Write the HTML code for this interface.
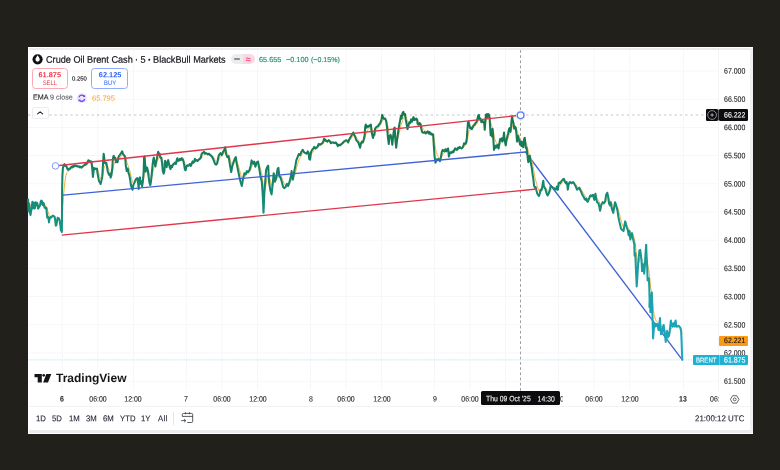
<!DOCTYPE html><html lang="en"><head><meta charset="utf-8"><title>Crude Oil Brent Cash</title><style>
*{margin:0;padding:0;box-sizing:border-box}
html,body{width:780px;height:470px;overflow:hidden;background:#22201b;font-family:"Liberation Sans",sans-serif;}
#root{position:absolute;left:0;top:0;width:780px;height:470px;will-change:transform;transform:translateZ(0);filter:blur(0.3px)}
#f{position:absolute;left:28px;top:47px;width:725px;height:386.6px;background:#fff;}
.band{position:absolute;background:#ebebee}
.t{position:absolute;white-space:nowrap;line-height:1;color:#1b1c1f;transform:rotate(0.03deg)}
svg{position:absolute;left:0;top:0}
.lbl{position:absolute}
.ax{font-size:7.8px;-webkit-text-stroke:0.1px #1b1c1f;transform:scaleX(0.895) rotate(0.03deg);transform-origin:0 0}
.tx{font-size:7.8px;-webkit-text-stroke:0.08px #1b1c1f;transform:scaleX(0.895) rotate(0.03deg);transform-origin:50% 0}
.ttl{font-size:9.55px;color:#16181d;-webkit-text-stroke:0.22px #16181d;transform:scaleX(0.956) rotate(0.03deg);transform-origin:0 0}
.d{display:inline-block;width:1.5px;height:1.5px;background:#16181d;border-radius:50%;margin:0 3.25px;vertical-align:2.5px}
.gv{font-size:7.3px;color:#1f8f73;-webkit-text-stroke:0.15px #1f8f73}
.bs{text-align:center}
.bt{font-size:8.45px;color:#1e222d;-webkit-text-stroke:0.12px #1e222d;transform:scaleX(0.92) rotate(0.03deg);transform-origin:0 0}
</style></head><body>
<div id="root">
<div id="f"></div>
<div class="band" style="left:29.2px;top:48.2px;width:723.6px;height:1.9px"></div>
<div class="band" style="left:29.2px;top:430px;width:723.6px;height:2.5px"></div>
<div class="band" style="left:750.3px;top:48.2px;width:2.4px;height:384.4px;background:#f0f0f2"></div>
<div style="position:absolute;left:29.2px;top:406.4px;width:721px;height:1px;background:#f3f3f5"></div>
<svg width="780" height="470" viewBox="0 0 780 470"><defs><linearGradient id="lg" gradientUnits="userSpaceOnUse" x1="0" y1="110" x2="0" y2="362"><stop offset="0" stop-color="#17784f"/><stop offset="0.16" stop-color="#167c5a"/><stop offset="0.30" stop-color="#14876e"/><stop offset="0.44" stop-color="#179282"/><stop offset="0.63" stop-color="#199d9f"/><stop offset="0.83" stop-color="#1aa4b6"/><stop offset="1" stop-color="#1da8c6"/></linearGradient></defs><line x1="62.2" y1="50" x2="62.2" y2="390" stroke="#f7f7f9" stroke-width="1"/><line x1="97.8" y1="50" x2="97.8" y2="390" stroke="#f7f7f9" stroke-width="1"/><line x1="133.4" y1="50" x2="133.4" y2="390" stroke="#f7f7f9" stroke-width="1"/><line x1="186.3" y1="50" x2="186.3" y2="390" stroke="#f7f7f9" stroke-width="1"/><line x1="221.9" y1="50" x2="221.9" y2="390" stroke="#f7f7f9" stroke-width="1"/><line x1="257.5" y1="50" x2="257.5" y2="390" stroke="#f7f7f9" stroke-width="1"/><line x1="310.4" y1="50" x2="310.4" y2="390" stroke="#f7f7f9" stroke-width="1"/><line x1="346.0" y1="50" x2="346.0" y2="390" stroke="#f7f7f9" stroke-width="1"/><line x1="381.6" y1="50" x2="381.6" y2="390" stroke="#f7f7f9" stroke-width="1"/><line x1="434.4" y1="50" x2="434.4" y2="390" stroke="#f7f7f9" stroke-width="1"/><line x1="470.0" y1="50" x2="470.0" y2="390" stroke="#f7f7f9" stroke-width="1"/><line x1="505.6" y1="50" x2="505.6" y2="390" stroke="#f7f7f9" stroke-width="1"/><line x1="558.5" y1="50" x2="558.5" y2="390" stroke="#f7f7f9" stroke-width="1"/><line x1="594.1" y1="50" x2="594.1" y2="390" stroke="#f7f7f9" stroke-width="1"/><line x1="629.7" y1="50" x2="629.7" y2="390" stroke="#f7f7f9" stroke-width="1"/><line x1="683.5" y1="50" x2="683.5" y2="390" stroke="#f7f7f9" stroke-width="1"/><line x1="28" y1="71.0" x2="719" y2="71.0" stroke="#f7f7f9" stroke-width="1"/><line x1="28" y1="99.2" x2="719" y2="99.2" stroke="#f7f7f9" stroke-width="1"/><line x1="28" y1="127.4" x2="719" y2="127.4" stroke="#f7f7f9" stroke-width="1"/><line x1="28" y1="155.6" x2="719" y2="155.6" stroke="#f7f7f9" stroke-width="1"/><line x1="28" y1="183.8" x2="719" y2="183.8" stroke="#f7f7f9" stroke-width="1"/><line x1="28" y1="212.0" x2="719" y2="212.0" stroke="#f7f7f9" stroke-width="1"/><line x1="28" y1="240.2" x2="719" y2="240.2" stroke="#f7f7f9" stroke-width="1"/><line x1="28" y1="268.4" x2="719" y2="268.4" stroke="#f7f7f9" stroke-width="1"/><line x1="28" y1="296.6" x2="719" y2="296.6" stroke="#f7f7f9" stroke-width="1"/><line x1="28" y1="324.8" x2="719" y2="324.8" stroke="#f7f7f9" stroke-width="1"/><line x1="28" y1="353.0" x2="719" y2="353.0" stroke="#f7f7f9" stroke-width="1"/><line x1="28" y1="381.2" x2="719" y2="381.2" stroke="#f7f7f9" stroke-width="1"/><line x1="28" y1="115" x2="706" y2="115" stroke="#c2c4c9" stroke-width="1" stroke-dasharray="2.3 3"/><line x1="520.5" y1="50" x2="520.5" y2="392" stroke="#a0a0a5" stroke-width="1" stroke-dasharray="2.8 2.4"/><line x1="28" y1="359.9" x2="694" y2="359.9" stroke="#b6e6f0" stroke-width="1" stroke-dasharray="1.3 1.1"/><line x1="525.5" y1="152" x2="682.3" y2="359.8" stroke="#3f62d8" stroke-width="1.35" stroke-linecap="round"/><path d="M28.0 199.6 L28.5 201.6 L29.0 202.5 L29.5 203.6 L30.0 205.5 L30.5 207.4 L31.0 208.3 L31.5 208.5 L32.0 207.9 L32.5 206.9 L33.0 207.1 L33.5 206.5 L34.0 206.4 L34.5 206.8 L35.0 206.9 L35.5 206.1 L36.0 205.8 L36.5 205.5 L37.0 205.0 L37.5 204.8 L38.0 205.3 L38.5 205.9 L39.0 206.1 L39.5 206.2 L40.0 206.0 L40.5 205.4 L41.0 204.5 L41.5 203.8 L42.0 203.3 L42.5 203.5 L43.0 203.5 L43.5 203.5 L44.0 203.7 L44.5 204.4 L45.0 205.0 L45.5 205.6 L46.0 206.1 L46.5 206.7 L47.0 208.5 L47.5 210.3 L48.0 211.6 L48.5 212.9 L49.0 214.8 L49.5 215.7 L50.0 216.1 L50.5 216.3 L51.0 216.6 L51.5 216.7 L52.0 216.7 L52.5 216.5 L53.0 216.4 L53.5 216.3 L54.0 216.3 L54.5 216.3 L55.0 216.9 L55.5 218.1 L56.0 219.6 L56.5 220.6 L57.0 220.7 L57.5 220.3 L58.0 219.8 L58.5 219.5 L59.0 219.4 L59.5 219.5 L60.0 220.2 L60.5 221.6 L61.0 223.4 L61.5 224.9 L62.0 222.9 L62.5 213.2 L63.0 204.1 L63.5 196.5 L64.0 190.2 L64.5 185.0 L65.0 181.1 L65.5 178.0 L66.0 175.5 L66.5 173.7 L67.0 172.5 L67.5 171.9 L68.0 171.4 L68.5 171.0 L69.0 170.6 L69.5 170.2 L70.0 169.9 L70.5 169.6 L71.0 169.1 L71.5 168.6 L72.0 168.4 L72.5 168.0 L73.0 167.6 L73.5 167.4 L74.0 167.2 L74.5 166.8 L75.0 166.6 L75.5 166.5 L76.0 166.3 L76.5 166.3 L77.0 166.3 L77.5 166.2 L78.0 166.3 L78.5 166.3 L79.0 166.4 L79.5 166.5 L80.0 166.6 L80.5 166.6 L81.0 166.7 L81.5 166.9 L82.0 166.9 L82.5 166.9 L83.0 166.8 L83.5 166.5 L84.0 166.3 L84.5 166.1 L85.0 165.7 L85.5 165.4 L86.0 165.2 L86.5 164.9 L87.0 164.6 L87.5 164.1 L88.0 163.5 L88.5 162.9 L89.0 162.6 L89.5 162.3 L90.0 162.1 L90.5 162.1 L91.0 162.0 L91.5 162.1 L92.0 163.0 L92.5 164.7 L93.0 167.0 L93.5 168.1 L94.0 168.1 L94.5 168.3 L95.0 168.4 L95.5 168.4 L96.0 168.6 L96.5 168.6 L97.0 168.6 L97.5 169.5 L98.0 170.7 L98.5 172.3 L99.0 174.0 L99.5 175.6 L100.0 176.9 L100.5 178.3 L101.0 179.1 L101.5 179.3 L102.0 179.0 L102.5 177.5 L103.0 174.7 L103.5 171.0 L104.0 168.0 L104.5 166.6 L105.0 165.9 L105.5 165.4 L106.0 164.9 L106.5 164.7 L107.0 165.1 L107.5 166.0 L108.0 167.3 L108.5 168.5 L109.0 169.7 L109.5 170.7 L110.0 171.4 L110.5 172.4 L111.0 173.3 L111.5 173.5 L112.0 172.9 L112.5 171.1 L113.0 168.6 L113.5 166.2 L114.0 164.3 L114.5 163.3 L115.0 162.2 L115.5 161.6 L116.0 161.7 L116.5 161.7 L117.0 161.7 L117.5 161.8 L118.0 161.4 L118.5 160.5 L119.0 159.6 L119.5 158.8 L120.0 158.0 L120.5 157.2 L121.0 156.4 L121.5 155.6 L122.0 154.8 L122.5 154.3 L123.0 154.3 L123.5 154.4 L124.0 154.6 L124.5 154.8 L125.0 155.3 L125.5 156.5 L126.0 158.6 L126.5 160.8 L127.0 162.7 L127.5 164.0 L128.0 165.2 L128.5 166.8 L129.0 168.3 L129.5 169.9 L130.0 171.6 L130.5 173.8 L131.0 176.1 L131.5 178.3 L132.0 180.4 L132.5 182.2 L133.0 183.2 L133.5 183.5 L134.0 183.5 L134.5 183.2 L135.0 182.8 L135.5 182.2 L136.0 181.6 L136.5 181.0 L137.0 180.5 L137.5 180.2 L138.0 180.5 L138.5 181.8 L139.0 182.1 L139.5 181.3 L140.0 180.5 L140.5 181.2 L141.0 181.4 L141.5 181.7 L142.0 182.5 L142.5 182.8 L143.0 182.2 L143.5 180.4 L144.0 176.3 L144.5 172.3 L145.0 170.2 L145.5 170.0 L146.0 169.9 L146.5 169.4 L147.0 169.1 L147.5 169.1 L148.0 169.5 L148.5 170.8 L149.0 172.5 L149.5 174.5 L150.0 176.4 L150.5 177.9 L151.0 178.6 L151.5 178.2 L152.0 176.8 L152.5 174.5 L153.0 171.9 L153.5 169.3 L154.0 167.2 L154.5 166.2 L155.0 166.0 L155.5 165.9 L156.0 165.1 L156.5 164.1 L157.0 162.9 L157.5 161.3 L158.0 159.6 L158.5 158.4 L159.0 157.6 L159.5 156.8 L160.0 156.7 L160.5 156.9 L161.0 157.0 L161.5 157.5 L162.0 158.6 L162.5 160.4 L163.0 162.7 L163.5 164.8 L164.0 166.3 L164.5 166.9 L165.0 166.0 L165.5 165.3 L166.0 165.2 L166.5 165.5 L167.0 165.4 L167.5 164.7 L168.0 163.9 L168.5 163.4 L169.0 163.6 L169.5 164.1 L170.0 164.8 L170.5 165.7 L171.0 166.0 L171.5 166.0 L172.0 166.2 L172.5 166.1 L173.0 165.8 L173.5 165.5 L174.0 165.1 L174.5 164.7 L175.0 164.4 L175.5 164.2 L176.0 164.0 L176.5 163.4 L177.0 162.6 L177.5 161.8 L178.0 161.4 L178.5 161.3 L179.0 161.1 L179.5 160.8 L180.0 160.4 L180.5 160.3 L181.0 160.1 L181.5 159.8 L182.0 159.5 L182.5 159.4 L183.0 159.5 L183.5 159.9 L184.0 160.8 L184.5 162.1 L185.0 163.6 L185.5 164.9 L186.0 165.7 L186.5 165.8 L187.0 165.8 L187.5 165.7 L188.0 165.7 L188.5 165.7 L189.0 165.6 L189.5 165.4 L190.0 165.2 L190.5 165.2 L191.0 165.2 L191.5 165.0 L192.0 164.6 L192.5 164.0 L193.0 163.6 L193.5 163.4 L194.0 163.1 L194.5 162.6 L195.0 161.9 L195.5 161.6 L196.0 161.4 L196.5 161.2 L197.0 161.0 L197.5 160.9 L198.0 160.8 L198.5 160.6 L199.0 160.3 L199.5 160.1 L200.0 159.8 L200.5 159.4 L201.0 158.8 L201.5 158.0 L202.0 157.1 L202.5 156.3 L203.0 155.5 L203.5 154.9 L204.0 154.3 L204.5 154.0 L205.0 153.9 L205.5 153.8 L206.0 153.7 L206.5 153.6 L207.0 153.7 L207.5 153.7 L208.0 153.9 L208.5 153.9 L209.0 153.9 L209.5 154.0 L210.0 154.2 L210.5 154.4 L211.0 154.6 L211.5 155.0 L212.0 155.3 L212.5 155.8 L213.0 156.4 L213.5 157.1 L214.0 157.9 L214.5 158.8 L215.0 159.8 L215.5 160.7 L216.0 161.4 L216.5 162.0 L217.0 162.3 L217.5 162.2 L218.0 161.6 L218.5 160.6 L219.0 159.5 L219.5 158.5 L220.0 157.5 L220.5 156.6 L221.0 156.1 L221.5 155.8 L222.0 155.5 L222.5 155.1 L223.0 154.5 L223.5 153.9 L224.0 153.2 L224.5 152.4 L225.0 151.5 L225.5 151.1 L226.0 151.6 L226.5 152.3 L227.0 153.1 L227.5 153.9 L228.0 154.5 L228.5 154.8 L229.0 155.6 L229.5 156.9 L230.0 158.6 L230.5 160.5 L231.0 162.6 L231.5 164.2 L232.0 165.0 L232.5 165.1 L233.0 164.8 L233.5 164.3 L234.0 163.6 L234.5 162.8 L235.0 161.9 L235.5 161.1 L236.0 160.5 L236.5 160.8 L237.0 161.7 L237.5 162.9 L238.0 164.3 L238.5 166.0 L239.0 167.8 L239.5 169.7 L240.0 171.7 L240.5 173.6 L241.0 175.6 L241.5 177.4 L242.0 178.9 L242.5 179.5 L243.0 179.4 L243.5 178.9 L244.0 178.1 L244.5 177.1 L245.0 176.4 L245.5 176.0 L246.0 175.5 L246.5 174.8 L247.0 174.1 L247.5 173.6 L248.0 173.2 L248.5 172.9 L249.0 172.5 L249.5 172.0 L250.0 171.2 L250.5 170.3 L251.0 169.1 L251.5 167.5 L252.0 166.2 L252.5 165.5 L253.0 165.1 L253.5 164.6 L254.0 164.0 L254.5 163.8 L255.0 164.1 L255.5 164.6 L256.0 164.6 L256.5 164.3 L257.0 163.9 L257.5 163.5 L258.0 163.1 L258.5 163.4 L259.0 164.2 L259.5 165.4 L260.0 167.0 L260.5 168.8 L261.0 170.7 L261.5 172.7 L262.0 175.1 L262.5 178.5 L263.0 183.1 L263.5 189.0 L264.0 191.3 L264.5 191.2 L265.0 189.8 L265.5 187.4 L266.0 184.1 L266.5 181.0 L267.0 178.4 L267.5 176.0 L268.0 174.0 L268.5 173.5 L269.0 175.0 L269.5 177.0 L270.0 179.2 L270.5 181.5 L271.0 183.7 L271.5 185.8 L272.0 186.7 L272.5 186.5 L273.0 185.2 L273.5 183.3 L274.0 181.6 L274.5 181.0 L275.0 181.1 L275.5 180.9 L276.0 180.4 L276.5 179.5 L277.0 178.1 L277.5 176.4 L278.0 174.8 L278.5 173.6 L279.0 173.6 L279.5 174.2 L280.0 174.8 L280.5 175.3 L281.0 176.0 L281.5 177.0 L282.0 178.1 L282.5 179.4 L283.0 180.8 L283.5 182.1 L284.0 183.3 L284.5 184.2 L285.0 184.9 L285.5 185.3 L286.0 185.5 L286.5 185.4 L287.0 185.1 L287.5 185.0 L288.0 185.2 L288.5 185.1 L289.0 184.7 L289.5 184.1 L290.0 183.3 L290.5 182.3 L291.0 180.9 L291.5 179.1 L292.0 178.0 L292.5 177.8 L293.0 178.0 L293.5 177.6 L294.0 176.7 L294.5 175.4 L295.0 173.9 L295.5 172.2 L296.0 170.2 L296.5 168.1 L297.0 166.2 L297.5 164.5 L298.0 162.8 L298.5 161.2 L299.0 159.8 L299.5 158.8 L300.0 158.0 L300.5 157.2 L301.0 156.4 L301.5 155.4 L302.0 154.5 L302.5 153.6 L303.0 153.0 L303.5 152.6 L304.0 152.5 L304.5 152.5 L305.0 152.6 L305.5 152.7 L306.0 152.8 L306.5 153.0 L307.0 152.9 L307.5 152.7 L308.0 152.5 L308.5 152.6 L309.0 153.5 L309.5 154.6 L310.0 155.6 L310.5 155.7 L311.0 155.0 L311.5 154.2 L312.0 153.4 L312.5 152.6 L313.0 151.9 L313.5 151.1 L314.0 150.4 L314.5 149.8 L315.0 149.4 L315.5 149.2 L316.0 149.0 L316.5 148.7 L317.0 148.4 L317.5 148.1 L318.0 147.6 L318.5 147.0 L319.0 146.4 L319.5 146.0 L320.0 145.7 L320.5 145.5 L321.0 145.2 L321.5 144.9 L322.0 144.6 L322.5 144.2 L323.0 143.8 L323.5 143.2 L324.0 142.4 L324.5 141.7 L325.0 141.3 L325.5 141.0 L326.0 141.0 L326.5 141.0 L327.0 141.1 L327.5 141.2 L328.0 141.2 L328.5 141.0 L329.0 140.9 L329.5 140.9 L330.0 141.0 L330.5 141.3 L331.0 141.7 L331.5 141.9 L332.0 142.0 L332.5 142.1 L333.0 142.2 L333.5 142.3 L334.0 142.4 L334.5 142.6 L335.0 142.6 L335.5 142.6 L336.0 142.7 L336.5 142.8 L337.0 143.1 L337.5 143.6 L338.0 144.1 L338.5 144.3 L339.0 144.4 L339.5 144.5 L340.0 144.7 L340.5 144.8 L341.0 144.7 L341.5 144.5 L342.0 144.3 L342.5 144.1 L343.0 143.8 L343.5 143.5 L344.0 143.1 L344.5 142.7 L345.0 142.4 L345.5 142.0 L346.0 141.7 L346.5 141.4 L347.0 141.3 L347.5 141.3 L348.0 141.5 L348.5 141.5 L349.0 141.2 L349.5 140.7 L350.0 140.2 L350.5 139.6 L351.0 138.9 L351.5 138.2 L352.0 137.5 L352.5 136.8 L353.0 136.0 L353.5 135.4 L354.0 135.3 L354.5 135.3 L355.0 135.5 L355.5 136.0 L356.0 136.7 L356.5 137.4 L357.0 138.2 L357.5 138.8 L358.0 139.5 L358.5 140.2 L359.0 141.0 L359.5 142.0 L360.0 143.1 L360.5 143.7 L361.0 143.6 L361.5 143.4 L362.0 143.1 L362.5 142.9 L363.0 142.7 L363.5 142.2 L364.0 141.4 L364.5 140.4 L365.0 138.3 L365.5 135.8 L366.0 133.7 L366.5 132.3 L367.0 131.3 L367.5 130.3 L368.0 129.5 L368.5 129.0 L369.0 128.4 L369.5 127.8 L370.0 127.4 L370.5 127.0 L371.0 126.8 L371.5 127.7 L372.0 129.0 L372.5 130.5 L373.0 131.9 L373.5 132.7 L374.0 133.0 L374.5 133.3 L375.0 132.6 L375.5 131.7 L376.0 130.9 L376.5 130.1 L377.0 129.4 L377.5 128.8 L378.0 128.3 L378.5 127.7 L379.0 127.1 L379.5 126.5 L380.0 125.8 L380.5 125.1 L381.0 124.3 L381.5 123.3 L382.0 121.9 L382.5 120.7 L383.0 120.1 L383.5 119.7 L384.0 119.5 L384.5 119.3 L385.0 119.2 L385.5 119.2 L386.0 119.5 L386.5 120.4 L387.0 121.7 L387.5 124.0 L388.0 126.9 L388.5 129.9 L389.0 132.3 L389.5 133.2 L390.0 133.7 L390.5 134.0 L391.0 134.4 L391.5 135.1 L392.0 136.4 L392.5 137.8 L393.0 137.8 L393.5 137.0 L394.0 135.4 L394.5 133.9 L395.0 133.7 L395.5 135.1 L396.0 137.2 L396.5 138.8 L397.0 139.3 L397.5 138.8 L398.0 137.6 L398.5 136.0 L399.0 134.0 L399.5 132.0 L400.0 129.8 L400.5 127.5 L401.0 125.1 L401.5 123.8 L402.0 122.2 L402.5 120.5 L403.0 118.9 L403.5 117.6 L404.0 116.9 L404.5 116.4 L405.0 116.0 L405.5 116.3 L406.0 117.2 L406.5 118.4 L407.0 119.9 L407.5 121.7 L408.0 122.9 L408.5 123.4 L409.0 123.5 L409.5 123.3 L410.0 123.2 L410.5 122.9 L411.0 122.3 L411.5 121.9 L412.0 121.9 L412.5 121.5 L413.0 120.8 L413.5 120.1 L414.0 119.9 L414.5 119.9 L415.0 119.8 L415.5 119.7 L416.0 119.5 L416.5 119.4 L417.0 119.4 L417.5 120.0 L418.0 120.9 L418.5 121.6 L419.0 122.0 L419.5 122.3 L420.0 122.5 L420.5 123.0 L421.0 123.8 L421.5 124.9 L422.0 126.2 L422.5 127.5 L423.0 128.5 L423.5 129.3 L424.0 129.9 L424.5 130.4 L425.0 130.8 L425.5 131.3 L426.0 131.7 L426.5 131.8 L427.0 131.9 L427.5 131.8 L428.0 131.8 L428.5 132.1 L429.0 132.2 L429.5 132.2 L430.0 132.4 L430.5 132.8 L431.0 133.0 L431.5 133.1 L432.0 133.4 L432.5 133.7 L433.0 133.8 L433.5 135.2 L434.0 137.9 L434.5 141.3 L435.0 144.8 L435.5 148.3 L436.0 150.9 L436.5 152.6 L437.0 154.1 L437.5 155.3 L438.0 156.1 L438.5 156.7 L439.0 157.3 L439.5 157.9 L440.0 158.5 L440.5 158.6 L441.0 158.3 L441.5 157.4 L442.0 156.2 L442.5 155.1 L443.0 154.1 L443.5 153.4 L444.0 152.9 L444.5 152.6 L445.0 152.1 L445.5 151.6 L446.0 151.4 L446.5 151.3 L447.0 151.0 L447.5 150.5 L448.0 150.1 L448.5 150.6 L449.0 151.8 L449.5 152.3 L450.0 152.4 L450.5 152.4 L451.0 152.4 L451.5 152.5 L452.0 152.4 L452.5 152.2 L453.0 152.2 L453.5 152.1 L454.0 151.8 L454.5 151.4 L455.0 150.9 L455.5 150.4 L456.0 150.2 L456.5 150.0 L457.0 150.0 L457.5 149.7 L458.0 149.4 L458.5 149.1 L459.0 148.9 L459.5 148.6 L460.0 148.3 L460.5 148.2 L461.0 148.1 L461.5 148.2 L462.0 148.2 L462.5 148.0 L463.0 147.7 L463.5 147.3 L464.0 146.6 L464.5 146.0 L465.0 145.5 L465.5 145.2 L466.0 144.7 L466.5 143.8 L467.0 142.3 L467.5 139.6 L468.0 136.3 L468.5 133.4 L469.0 131.4 L469.5 130.3 L470.0 129.8 L470.5 129.4 L471.0 129.1 L471.5 128.9 L472.0 128.9 L472.5 128.6 L473.0 128.2 L473.5 127.7 L474.0 127.2 L474.5 126.7 L475.0 126.1 L475.5 125.5 L476.0 124.9 L476.5 124.3 L477.0 123.5 L477.5 122.5 L478.0 121.3 L478.5 120.1 L479.0 119.3 L479.5 119.1 L480.0 119.1 L480.5 119.0 L481.0 119.3 L481.5 119.9 L482.0 120.2 L482.5 120.4 L483.0 120.7 L483.5 121.0 L484.0 121.1 L484.5 122.3 L485.0 123.1 L485.5 122.5 L486.0 120.9 L486.5 119.6 L487.0 118.8 L487.5 118.3 L488.0 117.5 L488.5 116.9 L489.0 116.5 L489.5 116.7 L490.0 118.3 L490.5 121.2 L491.0 123.5 L491.5 125.2 L492.0 127.2 L492.5 127.6 L493.0 128.6 L493.5 131.5 L494.0 135.1 L494.5 137.5 L495.0 139.4 L495.5 141.1 L496.0 142.1 L496.5 142.9 L497.0 143.7 L497.5 144.2 L498.0 144.5 L498.5 145.2 L499.0 145.3 L499.5 144.8 L500.0 143.8 L500.5 142.9 L501.0 142.4 L501.5 141.6 L502.0 141.2 L502.5 141.3 L503.0 141.1 L503.5 140.2 L504.0 138.8 L504.5 138.7 L505.0 139.3 L505.5 140.3 L506.0 141.0 L506.5 140.9 L507.0 140.3 L507.5 139.4 L508.0 138.4 L508.5 137.0 L509.0 135.4 L509.5 134.0 L510.0 133.2 L510.5 132.7 L511.0 131.7 L511.5 129.6 L512.0 127.2 L512.5 125.6 L513.0 124.7 L513.5 124.4 L514.0 125.0 L514.5 125.6 L515.0 125.8 L515.5 126.2 L516.0 126.9 L516.5 128.4 L517.0 130.9 L517.5 132.3 L518.0 133.1 L518.5 134.1 L519.0 135.3 L519.5 136.7 L520.0 138.2 L520.5 139.2 L521.0 139.8 L521.5 140.8 L522.0 141.5 L522.5 141.7 L523.0 142.6 L523.5 142.9 L524.0 142.3 L524.5 141.5 L525.0 141.2 L525.5 141.9 L526.0 143.1 L526.5 144.0 L527.0 145.4 L527.5 147.5 L528.0 150.1 L528.5 152.2 L529.0 153.2 L529.5 153.9 L530.0 154.6 L530.5 155.9 L531.0 157.5 L531.5 159.3 L532.0 161.3 L532.5 163.7 L533.0 166.4 L533.5 169.2 L534.0 172.3 L534.5 175.2 L535.0 177.7 L535.5 179.6 L536.0 181.4 L536.5 183.2 L537.0 185.1 L537.5 186.9 L538.0 188.5 L538.5 189.8 L539.0 191.1 L539.5 191.7 L540.0 191.8 L540.5 191.4 L541.0 191.1 L541.5 190.9 L542.0 190.4 L542.5 189.4 L543.0 188.0 L543.5 186.9 L544.0 186.7 L544.5 186.9 L545.0 187.2 L545.5 187.6 L546.0 188.3 L546.5 189.2 L547.0 190.2 L547.5 191.2 L548.0 191.9 L548.5 192.3 L549.0 192.4 L549.5 192.1 L550.0 191.5 L550.5 190.5 L551.0 189.6 L551.5 189.0 L552.0 188.6 L552.5 188.3 L553.0 188.2 L553.5 188.3 L554.0 188.4 L554.5 188.4 L555.0 188.5 L555.5 188.6 L556.0 188.8 L556.5 188.6 L557.0 188.2 L557.5 188.1 L558.0 188.2 L558.5 187.5 L559.0 186.6 L559.5 185.8 L560.0 185.3 L560.5 184.8 L561.0 184.2 L561.5 183.6 L562.0 182.9 L562.5 182.4 L563.0 181.8 L563.5 181.2 L564.0 180.8 L564.5 180.7 L565.0 180.9 L565.5 181.3 L566.0 181.6 L566.5 181.7 L567.0 182.1 L567.5 183.0 L568.0 184.1 L568.5 184.3 L569.0 184.1 L569.5 183.8 L570.0 183.5 L570.5 183.2 L571.0 183.1 L571.5 183.1 L572.0 183.1 L572.5 183.0 L573.0 182.8 L573.5 182.8 L574.0 182.9 L574.5 183.2 L575.0 183.5 L575.5 184.0 L576.0 184.6 L576.5 185.4 L577.0 186.2 L577.5 186.8 L578.0 187.2 L578.5 187.5 L579.0 187.6 L579.5 187.7 L580.0 188.1 L580.5 188.5 L581.0 189.1 L581.5 189.8 L582.0 190.6 L582.5 191.5 L583.0 192.3 L583.5 193.2 L584.0 194.1 L584.5 195.0 L585.0 195.9 L585.5 196.7 L586.0 197.1 L586.5 197.6 L587.0 198.3 L587.5 199.0 L588.0 199.4 L588.5 199.5 L589.0 199.3 L589.5 198.9 L590.0 198.4 L590.5 197.8 L591.0 197.4 L591.5 197.1 L592.0 196.8 L592.5 196.5 L593.0 196.2 L593.5 196.3 L594.0 196.8 L594.5 197.3 L595.0 197.1 L595.5 196.5 L596.0 196.6 L596.5 197.3 L597.0 198.2 L597.5 199.0 L598.0 199.8 L598.5 200.6 L599.0 201.6 L599.5 202.8 L600.0 204.3 L600.5 205.2 L601.0 205.4 L601.5 205.2 L602.0 204.8 L602.5 204.3 L603.0 204.0 L603.5 203.8 L604.0 203.6 L604.5 203.4 L605.0 203.0 L605.5 202.2 L606.0 200.8 L606.5 199.5 L607.0 198.2 L607.5 197.3 L608.0 197.0 L608.5 197.5 L609.0 198.6 L609.5 199.7 L610.0 200.8 L610.5 201.3 L611.0 201.8 L611.5 202.8 L612.0 204.1 L612.5 205.4 L613.0 206.8 L613.5 207.7 L614.0 207.9 L614.5 207.4 L615.0 206.3 L615.5 205.8 L616.0 205.6 L616.5 205.8 L617.0 206.4 L617.5 207.2 L618.0 208.6 L618.5 210.4 L619.0 212.4 L619.5 214.3 L620.0 216.3 L620.5 218.3 L621.0 220.4 L621.5 222.2 L622.0 223.7 L622.5 225.0 L623.0 226.1 L623.5 227.1 L624.0 227.2 L624.5 226.8 L625.0 225.9 L625.5 225.2 L626.0 225.0 L626.5 225.3 L627.0 225.8 L627.5 226.5 L628.0 227.5 L628.5 228.9 L629.0 229.8 L629.5 230.1 L630.0 231.3 L630.5 232.8 L631.0 233.4 L631.5 233.6 L632.0 233.5 L632.5 234.0 L633.0 235.0 L633.5 236.2 L634.0 237.5 L634.5 239.1 L635.0 242.2 L635.5 245.3 L636.0 250.5 L636.5 256.8 L637.0 261.8 L637.5 264.2 L638.0 264.7 L638.5 263.8 L639.0 262.0 L639.5 259.7 L640.0 257.7 L640.5 256.7 L641.0 256.6 L641.5 257.6 L642.0 259.9 L642.5 261.4 L643.0 262.1 L643.5 262.9 L644.0 264.6 L644.5 265.6 L645.0 265.0 L645.5 262.9 L646.0 259.8 L646.5 258.4 L647.0 259.3 L647.5 263.0 L648.0 266.2 L648.5 268.6 L649.0 270.9 L649.5 275.9 L650.0 281.0 L650.5 286.9 L651.0 289.7 L651.5 290.8 L652.0 292.7 L652.5 297.8 L653.0 304.9 L653.5 310.7 L654.0 314.1 L654.5 315.9 L655.0 317.9 L655.5 319.4 L656.0 320.3 L656.5 321.2 L657.0 321.9 L657.5 322.5 L658.0 323.4 L658.5 324.6 L659.0 325.0 L659.5 324.4 L660.0 323.3 L660.5 324.0 L661.0 326.1 L661.5 327.1 L662.0 327.8 L662.5 328.3 L663.0 328.0 L663.5 327.5 L664.0 327.7 L664.5 328.8 L665.0 330.1 L665.5 332.1 L666.0 333.5 L666.5 333.6 L667.0 333.1 L667.5 333.4 L668.0 334.0 L668.5 333.9 L669.0 334.2 L669.5 334.0 L670.0 332.9 L670.5 331.1 L671.0 329.2 L671.5 328.1 L672.0 327.7 L672.5 327.3 L673.0 326.8 L673.5 326.1 L674.0 325.9 L674.5 325.8 L675.0 325.3 L675.5 324.4 L676.0 324.3 L676.5 324.8 L677.0 325.1 L677.5 325.4 L678.0 325.5 L678.5 325.6 L679.0 325.7 L679.5 326.0 L680.0 326.3 L680.5 326.8 L681.0 327.6 L681.5 330.0 L682.0 334.7" fill="none" stroke="#f5a623" stroke-width="1" stroke-linejoin="round" opacity="0.9"/><path d="M28.1 199.6 L28.6 211.3 L29.2 203.8 L29.8 212.3 L30.5 215.0 L31.1 211.3 L31.7 208.1 L32.4 201.7 L33.0 208.1 L33.7 202.8 L34.3 208.6 L34.9 208.1 L35.6 202.2 L36.2 205.4 L36.9 202.8 L37.5 203.8 L38.1 208.6 L38.8 207.6 L39.4 206.5 L40.0 205.4 L40.7 201.7 L41.3 200.6 L42.0 201.2 L42.6 204.9 L43.2 202.8 L43.9 203.8 L44.5 207.6 L45.1 207.0 L45.8 208.6 L46.4 208.1 L46.9 214.5 L47.3 217.7 L47.9 216.6 L48.5 218.2 L49.0 222.4 L49.6 218.7 L50.3 217.1 L51.1 217.7 L52.0 216.6 L52.8 215.5 L53.7 216.1 L54.5 216.6 L55.1 219.8 L55.8 225.6 L56.4 225.1 L57.1 220.8 L57.7 217.7 L58.3 218.2 L59.0 218.7 L59.6 220.3 L60.3 225.1 L60.9 230.4 L61.5 231.0 L61.9 232.1 L62.0 210.0 L62.1 188.5 L62.4 175.6 L62.9 167.9 L63.7 165.4 L64.5 164.1 L65.2 166.0 L66.0 165.4 L66.8 167.3 L67.5 169.2 L68.3 169.9 L69.1 168.6 L69.8 169.0 L70.6 167.9 L71.4 166.7 L72.2 167.3 L72.9 166.0 L73.7 166.7 L74.5 165.4 L75.2 166.0 L76.0 165.6 L76.8 166.4 L77.5 166.0 L78.3 166.7 L79.1 166.4 L79.8 167.3 L80.6 166.7 L81.4 167.7 L82.2 166.9 L82.9 166.4 L83.7 165.4 L84.5 165.1 L85.2 164.1 L86.0 164.4 L86.8 163.5 L87.5 162.2 L88.3 160.3 L89.1 161.5 L89.8 160.9 L90.6 162.2 L91.4 161.5 L91.9 165.4 L92.4 170.5 L92.9 176.9 L93.4 173.1 L94.0 167.9 L94.7 169.2 L95.5 168.6 L96.3 169.2 L97.0 168.6 L97.5 173.1 L98.3 177.6 L99.1 181.4 L99.8 182.1 L100.6 184.0 L101.4 180.8 L102.2 176.9 L102.7 169.2 L103.2 160.3 L103.7 153.8 L104.2 157.7 L104.7 162.8 L105.5 163.5 L106.3 162.8 L107.0 166.7 L107.8 171.8 L108.6 173.7 L109.3 175.0 L110.1 173.7 L110.6 177.6 L111.4 175.6 L112.2 169.2 L112.7 161.5 L113.2 157.1 L113.7 155.8 L114.5 159.0 L115.2 157.7 L116.0 162.2 L116.8 161.5 L117.5 162.2 L118.3 157.7 L119.1 155.8 L119.8 155.1 L120.6 153.8 L121.4 152.6 L122.2 151.3 L122.9 153.8 L123.7 155.1 L124.5 155.8 L125.2 157.7 L125.8 165.3 L126.7 171.0 L127.7 168.5 L128.5 172.9 L129.2 174.9 L130.0 178.7 L130.9 185.1 L131.8 188.3 L132.6 189.6 L133.3 185.1 L134.4 182.6 L135.4 180.0 L136.4 178.7 L137.3 178.1 L137.9 181.3 L138.7 189.0 L139.2 178.7 L140.0 177.4 L140.5 183.8 L141.3 181.3 L142.1 186.4 L142.8 181.9 L143.6 172.3 L144.1 156.9 L144.6 156.3 L145.1 163.3 L145.6 171.7 L146.4 167.2 L147.2 167.8 L147.9 171.0 L148.7 177.4 L149.5 182.6 L150.3 185.1 L151.0 181.3 L151.8 173.6 L152.6 164.6 L153.3 159.5 L153.8 157.6 L154.6 163.3 L155.4 166.5 L156.2 160.8 L156.9 158.8 L157.7 153.7 L158.2 151.8 L158.7 155.0 L159.5 153.7 L160.3 157.6 L161.3 157.6 L162.1 163.3 L162.8 171.0 L163.6 173.6 L164.4 171.0 L165.1 160.8 L165.9 164.6 L166.7 167.2 L167.4 162.1 L168.2 160.1 L169.0 164.0 L169.7 167.2 L170.5 169.1 L171.3 165.9 L172.1 167.2 L172.8 164.6 L173.8 164.0 L174.9 162.7 L175.9 164.0 L176.7 160.1 L177.4 158.2 L178.2 160.8 L179.2 160.1 L180.0 158.8 L180.8 160.1 L181.5 158.2 L182.6 158.8 L183.3 160.8 L184.1 164.6 L184.9 169.7 L185.6 170.4 L186.4 166.5 L187.2 165.3 L187.9 165.9 L189.0 165.3 L189.7 164.0 L190.8 165.9 L191.8 163.3 L192.6 161.4 L193.3 162.7 L194.1 162.1 L194.9 158.8 L195.6 160.8 L196.7 160.1 L197.7 160.8 L198.7 159.5 L199.7 158.8 L200.8 157.6 L201.5 154.4 L202.3 153.1 L203.3 152.4 L204.1 151.8 L204.9 153.7 L205.9 153.1 L206.9 153.7 L207.9 154.4 L209.0 153.7 L210.0 155.0 L211.0 155.6 L212.1 156.9 L213.1 158.8 L214.1 161.4 L215.1 164.0 L216.2 164.6 L217.2 163.3 L217.9 159.5 L218.7 155.6 L219.5 154.4 L220.5 153.0 L221.8 155.1 L223.1 151.9 L224.4 149.8 L225.2 147.2 L226.1 154.0 L227.3 157.2 L228.6 156.2 L229.9 164.7 L231.2 172.1 L232.4 165.7 L233.7 161.5 L235.0 158.3 L235.8 157.2 L236.7 163.6 L238.0 170.0 L239.3 176.4 L240.5 181.7 L241.8 186.0 L243.1 178.5 L244.4 173.2 L245.6 174.3 L246.9 171.1 L248.2 172.1 L249.5 170.0 L250.7 165.7 L251.6 160.4 L252.9 163.6 L254.2 161.5 L255.4 166.8 L256.7 162.6 L258.0 161.5 L259.3 168.9 L260.5 176.4 L261.8 181.7 L262.7 194.5 L263.5 212.6 L264.4 192.3 L265.2 181.7 L266.1 170.0 L267.3 166.8 L268.2 165.7 L269.0 181.7 L270.3 190.2 L271.6 194.5 L272.9 181.7 L273.7 173.2 L275.0 181.7 L276.3 177.4 L277.6 168.9 L278.4 167.9 L279.3 176.4 L280.5 177.4 L281.8 181.7 L283.1 187.0 L284.4 188.1 L285.6 187.0 L286.9 183.8 L288.2 186.0 L289.5 181.7 L290.7 177.4 L291.6 171.1 L292.9 179.6 L294.1 172.1 L295.4 165.7 L296.3 160.4 L297.6 157.2 L298.8 154.0 L300.1 155.1 L301.4 151.9 L302.7 149.8 L303.9 151.9 L305.0 152.9 L306.5 153.7 L307.7 151.4 L308.6 152.9 L309.2 158.9 L310.1 159.6 L311.0 152.2 L312.1 149.9 L313.4 148.4 L314.2 146.9 L315.4 148.4 L316.6 147.7 L317.8 146.2 L318.7 144.0 L319.9 144.7 L321.1 144.0 L322.3 143.2 L323.5 141.0 L324.1 138.8 L325.0 139.5 L326.2 141.0 L327.4 141.7 L328.6 140.2 L329.7 141.0 L330.9 143.2 L332.1 142.5 L333.3 142.5 L334.5 143.2 L335.7 142.5 L336.9 144.0 L337.8 146.2 L339.0 144.7 L340.2 145.4 L341.4 144.0 L342.6 143.2 L343.8 141.7 L344.9 141.0 L346.1 140.2 L347.3 141.0 L348.2 142.5 L349.1 139.5 L350.0 138.0 L350.9 136.5 L351.8 135.0 L352.7 133.5 L353.3 132.5 L354.2 135.0 L355.1 136.5 L356.0 139.5 L356.9 141.0 L357.8 141.7 L358.6 143.2 L359.6 146.2 L360.1 147.7 L361.0 143.2 L361.9 141.7 L362.8 142.5 L363.7 139.5 L364.6 135.8 L365.2 126.8 L365.8 124.6 L366.7 127.6 L367.6 126.1 L368.5 126.8 L369.4 125.3 L370.3 126.1 L370.9 124.6 L371.5 131.3 L372.4 135.8 L373.0 138.0 L373.9 134.3 L374.4 135.0 L375.0 129.1 L375.9 127.6 L376.8 126.8 L378.0 126.1 L378.9 124.6 L379.8 123.8 L380.7 121.6 L381.6 119.4 L382.2 114.9 L383.1 117.9 L384.0 118.6 L385.2 118.6 L386.1 120.9 L387.0 126.8 L387.9 137.3 L388.8 144.0 L389.6 135.8 L390.5 135.0 L391.4 137.3 L392.3 144.7 L393.2 135.8 L394.1 128.3 L394.7 127.6 L395.3 138.8 L396.2 147.7 L397.1 140.2 L398.0 132.8 L398.9 126.8 L399.8 122.3 L400.7 117.1 L401.0 115.7 L401.6 118.6 L402.4 113.4 L403.4 111.9 L404.2 114.9 L405.1 114.2 L405.7 119.4 L406.6 123.8 L407.5 129.1 L408.4 126.1 L409.3 122.3 L410.2 123.1 L411.1 119.4 L412.0 121.6 L412.9 118.6 L413.5 117.1 L414.4 120.1 L415.3 119.4 L416.2 118.6 L417.1 119.4 L417.6 123.8 L418.6 124.6 L419.4 123.1 L420.3 123.8 L421.2 128.3 L422.1 132.0 L423.3 132.8 L424.5 132.0 L425.7 133.5 L426.9 132.0 L427.8 131.3 L428.7 133.5 L429.6 132.0 L430.5 134.3 L431.4 133.5 L432.3 135.0 L433.1 134.3 L433.8 145.4 L434.6 156.6 L435.5 162.6 L436.4 159.6 L437.3 160.4 L438.2 158.9 L439.1 159.6 L440.0 161.1 L440.9 157.4 L441.8 152.2 L442.7 149.9 L443.6 150.7 L444.5 151.4 L445.4 149.2 L446.3 151.4 L447.2 149.2 L448.1 148.4 L448.9 156.6 L449.8 152.9 L450.7 152.2 L451.6 152.9 L452.5 151.4 L453.4 152.2 L454.3 149.9 L455.2 148.4 L456.1 149.2 L457.0 149.9 L457.9 147.7 L458.8 148.4 L459.7 146.9 L460.6 147.7 L461.5 148.4 L462.4 147.7 L463.3 146.2 L464.1 143.2 L465.0 144.0 L465.9 143.2 L466.8 138.8 L467.4 129.8 L468.0 122.3 L468.6 121.6 L469.2 124.6 L470.1 128.3 L471.0 127.6 L471.9 129.1 L472.8 126.8 L473.7 125.3 L474.6 124.6 L475.5 123.1 L476.4 122.3 L477.3 119.4 L478.2 115.7 L478.8 114.9 L479.6 119.4 L480.5 118.6 L481.4 122.3 L482.3 120.9 L483.2 122.3 L484.1 121.6 L484.7 129.8 L485.3 122.3 L485.9 114.9 L486.8 114.2 L487.3 117.2 L488.1 114.0 L488.9 114.6 L489.6 117.8 L490.1 126.8 L490.6 135.1 L491.4 130.6 L491.9 136.4 L492.4 128.7 L492.9 131.9 L493.5 142.2 L494.0 149.9 L494.7 146.0 L495.5 147.9 L496.3 145.4 L497.1 147.3 L497.8 144.7 L498.6 148.6 L499.4 143.5 L500.1 139.0 L500.9 140.3 L501.7 138.3 L502.4 141.5 L503.2 139.6 L504.0 132.6 L504.5 138.3 L505.3 143.5 L505.8 145.4 L506.5 140.3 L507.3 136.4 L508.1 133.8 L508.9 129.4 L509.6 128.1 L510.4 131.9 L511.1 126.2 L511.7 119.1 L512.2 116.8 L512.7 120.4 L513.5 123.0 L514.2 128.7 L515.0 126.8 L515.8 128.1 L516.5 134.5 L517.0 141.5 L517.8 135.8 L518.6 138.3 L519.4 141.5 L520.1 144.7 L520.9 141.5 L521.7 146.0 L522.4 142.2 L523.2 147.3 L524.0 139.6 L524.7 137.7 L525.3 142.2 L525.8 147.9 L526.5 147.6 L527.2 152.7 L527.8 159.0 L528.3 162.2 L529.0 157.1 L529.8 155.8 L530.3 160.3 L531.1 164.1 L531.8 168.0 L532.6 174.3 L533.4 179.4 L534.1 185.8 L534.9 187.7 L535.7 187.1 L536.4 190.3 L537.2 193.5 L538.0 194.8 L539.0 196.0 L539.8 193.5 L540.5 189.7 L541.3 190.3 L542.0 188.4 L542.8 183.3 L543.3 180.7 L543.8 185.8 L544.6 187.7 L545.4 189.0 L546.1 191.6 L546.9 194.1 L547.7 195.4 L548.4 194.1 L549.2 192.2 L550.0 189.0 L550.7 185.8 L551.5 186.5 L552.3 187.1 L553.0 187.7 L553.8 189.0 L554.5 188.4 L555.3 189.0 L556.1 189.7 L556.9 186.5 L557.4 187.1 L557.9 189.7 L558.6 183.3 L559.4 182.6 L560.2 183.3 L560.9 182.0 L561.7 180.7 L562.5 180.1 L563.5 178.8 L564.2 179.4 L565.0 182.0 L565.8 183.3 L566.5 182.0 L567.3 184.6 L567.8 189.7 L568.6 184.6 L569.4 182.6 L570.1 182.0 L570.9 182.6 L571.6 183.3 L572.4 182.6 L573.2 182.0 L574.0 183.3 L574.7 184.6 L575.5 185.8 L576.2 187.7 L577.0 189.7 L577.8 189.0 L578.5 188.4 L579.3 187.7 L580.1 189.7 L580.8 190.9 L581.6 192.8 L582.4 194.8 L583.1 196.0 L583.9 197.3 L584.7 199.2 L585.4 199.9 L586.2 198.6 L587.0 201.1 L587.7 201.8 L588.5 199.9 L589.3 197.9 L590.0 196.0 L590.8 195.4 L591.6 196.0 L592.3 195.4 L593.1 194.8 L593.9 198.6 L594.4 199.9 L595.4 193.7 L596.3 199.0 L597.1 202.2 L598.4 203.3 L599.3 206.5 L600.1 210.7 L601.4 204.4 L602.7 202.2 L603.9 203.3 L605.2 201.2 L606.1 194.8 L607.3 192.7 L608.2 196.9 L609.0 203.3 L609.9 205.4 L610.7 202.2 L611.6 207.6 L612.5 210.7 L613.3 212.9 L614.1 207.6 L615.0 202.2 L615.9 204.4 L616.7 207.6 L617.5 210.7 L618.4 217.1 L619.3 221.4 L620.1 224.6 L621.0 228.8 L622.2 229.9 L623.5 231.0 L624.4 225.6 L625.2 221.4 L626.1 224.6 L626.9 227.8 L627.8 229.9 L628.6 235.2 L629.5 231.0 L630.3 239.5 L631.2 235.2 L632.0 233.1 L632.9 238.4 L633.7 241.6 L634.6 245.8 L634.3 245.5 L634.6 255.7 L635.3 253.2 L636.0 271.1 L636.7 286.4 L637.4 276.2 L638.0 266.0 L638.7 257.4 L639.4 250.6 L640.1 249.8 L640.8 254.0 L641.5 260.9 L642.1 271.1 L642.8 264.3 L643.5 266.0 L644.2 273.6 L644.9 265.1 L645.5 254.0 L646.2 244.7 L646.5 254.0 L647.2 267.7 L647.6 280.4 L648.3 277.9 L648.9 278.7 L649.3 288.1 L649.6 300.0 L649.4 307.0 L650.1 300.2 L650.4 312.1 L651.1 298.5 L651.8 292.6 L652.1 305.3 L652.5 317.2 L652.8 327.4 L653.1 338.5 L653.8 329.1 L654.5 323.2 L655.2 326.6 L655.9 324.0 L656.5 324.9 L657.2 324.0 L657.9 326.6 L658.6 330.0 L659.3 324.0 L660.0 318.1 L660.3 324.0 L661.0 334.3 L661.7 330.0 L662.3 331.7 L663.0 326.6 L663.7 324.9 L664.4 332.6 L665.1 336.0 L665.7 341.9 L666.4 334.3 L667.1 330.9 L667.8 337.7 L668.5 333.4 L669.1 336.0 L669.8 330.0 L670.5 324.0 L670.9 320.6 L671.5 324.0 L672.2 326.6 L672.9 324.9 L673.6 323.2 L674.3 326.6 L674.9 323.2 L675.6 320.6 L676.3 326.6 L677.3 326.6 L678.3 325.7 L679.4 326.6 L680.4 328.3 L681.1 330.9 L681.6 341.1 L681.9 351.3 L682.3 359.8" fill="none" stroke="url(#lg)" stroke-width="2.05" stroke-linejoin="round" stroke-linecap="round"/><line x1="59.1" y1="165.5" x2="517.2" y2="115.5" stroke="#e0364c" stroke-width="1.3"/><line x1="61.7" y1="235.1" x2="537" y2="189" stroke="#e0364c" stroke-width="1.3"/><line x1="63.2" y1="195.2" x2="525.7" y2="152" stroke="#3f62d8" stroke-width="1.35" stroke-linecap="round"/><circle cx="55.5" cy="165.9" r="3.3" fill="#fff" stroke="#6f8cf4" stroke-width="0.9"/><circle cx="520.6" cy="115.3" r="4.1" fill="none" stroke="#c3d0fb" stroke-width="1.1"/><circle cx="520.6" cy="115.3" r="3.25" fill="rgba(255,255,255,0.82)" stroke="#4d72f0" stroke-width="1.05"/></svg>
<div class="t ax" style="left:724px;top:67px;translate:0 0.6px">67.000</div>
<div class="t ax" style="left:724px;top:95px;translate:0 0.8px">66.500</div>
<div class="t ax" style="left:724px;top:124px;translate:0 0.0px">66.000</div>
<div class="t ax" style="left:724px;top:152px;translate:0 0.2px">65.500</div>
<div class="t ax" style="left:724px;top:180px;translate:0 0.4px">65.000</div>
<div class="t ax" style="left:724px;top:208px;translate:0 0.6px">64.500</div>
<div class="t ax" style="left:724px;top:236px;translate:0 0.8px">64.000</div>
<div class="t ax" style="left:724px;top:265px;translate:0 0.0px">63.500</div>
<div class="t ax" style="left:724px;top:293px;translate:0 0.2px">63.000</div>
<div class="t ax" style="left:724px;top:321px;translate:0 0.4px">62.500</div>
<div class="t ax" style="left:724px;top:349px;translate:0 0.6px">62.000</div>
<div class="t ax" style="left:724px;top:377px;translate:0 0.8px">61.500</div>
<div style="position:absolute;left:717.9px;top:50px;width:1px;height:340.8px;background:#f4f4f6"></div>
<div class="t tx" style="left:42.2px;width:40px;text-align:center;top:395px;translate:0 0.5px;font-weight:bold;">6</div>
<div class="t tx" style="left:166.3px;width:40px;text-align:center;top:395px;translate:0 0.5px;">7</div>
<div class="t tx" style="left:290.6px;width:40px;text-align:center;top:395px;translate:0 0.5px;">8</div>
<div class="t tx" style="left:414.5px;width:40px;text-align:center;top:395px;translate:0 0.5px;">9</div>
<div class="t tx" style="left:663.3px;width:40px;text-align:center;top:395px;translate:0 0.5px;font-weight:bold;">13</div>
<div class="t tx" style="left:77.8px;width:40px;text-align:center;top:395px;translate:0 0.5px;">06:00</div>
<div class="t tx" style="left:113.4px;width:40px;text-align:center;top:395px;translate:0 0.5px;">12:00</div>
<div class="t tx" style="left:201.9px;width:40px;text-align:center;top:395px;translate:0 0.5px;">06:00</div>
<div class="t tx" style="left:237.5px;width:40px;text-align:center;top:395px;translate:0 0.5px;">12:00</div>
<div class="t tx" style="left:326.0px;width:40px;text-align:center;top:395px;translate:0 0.5px;">06:00</div>
<div class="t tx" style="left:361.6px;width:40px;text-align:center;top:395px;translate:0 0.5px;">12:00</div>
<div class="t tx" style="left:450.0px;width:40px;text-align:center;top:395px;translate:0 0.5px;">06:00</div>
<div class="t tx" style="left:574.1px;width:40px;text-align:center;top:395px;translate:0 0.5px;">06:00</div>
<div class="t tx" style="left:609.7px;width:40px;text-align:center;top:395px;translate:0 0.5px;">12:00</div>
<div class="t tx" style="left:560.2px;top:395px;translate:0 0.5px;width:2.5px;overflow:hidden;transform-origin:0 0">0</div>
<div class="t tx" style="left:710.1px;top:395px;translate:0 0.5px;width:9.6px;overflow:hidden;transform-origin:0 0">06:00</div>
<div class="lbl" style="left:706.2px;top:109.1px;width:11.8px;height:11.8px;background:#0c0c0f;border-radius:1.2px"></div>
<div class="lbl" style="left:718.9px;top:109.1px;width:29px;height:11.8px;background:#0c0c0f;border-radius:1.2px"></div>
<div class="t ax" style="left:724.2px;top:111px;translate:0 0.48px;color:#f6f6f6;-webkit-text-stroke:0.12px #f6f6f6">66.222</div>
<svg width="780" height="470" viewBox="0 0 780 470"><rect x="717.9" y="109.6" width="1.1" height="10.8" fill="#5a5a5e"/><circle cx="712.1" cy="115" r="4.4" fill="none" stroke="#bdbdc2" stroke-width="0.7"/><path d="M710.3 115h3.6M712.1 113.2v3.6" stroke="#dcdce0" stroke-width="0.7" fill="none"/></svg>
<div class="lbl" style="left:480.6px;top:390.8px;width:79.6px;height:13.9px;background:#0c0c0f;border-radius:1.5px"></div>
<div class="t tx" style="left:486.4px;top:395px;translate:0 0.35px;color:#f6f6f6;-webkit-text-stroke:0.1px #f6f6f6;font-size:7.8px;transform:scaleX(0.878) rotate(0.03deg);transform-origin:0 0">Thu 09 Oct '25<span style="display:inline-block;width:7.9px"></span>14:30</div>
<div class="lbl" style="left:719px;top:335.8px;width:29.1px;height:9.9px;background:#fb9a14;border-radius:1px"></div>
<div class="t ax" style="left:724.2px;top:337px;translate:0 0.1px;color:#17130a">62.221</div>
<div class="lbl" style="left:693.2px;top:355.1px;width:25.6px;height:9.8px;background:#1fb1d4;border-radius:1px 0 0 1px"></div>
<div class="lbl" style="left:718.8px;top:355.1px;width:29.3px;height:9.8px;background:#1fb1d4;border-radius:0 1px 1px 0;border-left:0.8px solid #62c9e1"></div>
<div class="t ax" style="left:695.8px;top:357px;translate:0 0.6px;color:#f4fcff;-webkit-text-stroke:0.15px #f4fcff;font-size:7.1px;transform:scaleX(0.85) rotate(0.03deg);transform-origin:0 0">BRENT</div>
<div class="t ax" style="left:724.2px;top:356px;translate:0 0.58px;color:#f8fdff;-webkit-text-stroke:0.15px #f8fdff">61.875</div>
<svg width="780" height="470" viewBox="0 0 780 470"><circle cx="37.6" cy="59.3" r="5.1" fill="#101114"/><path d="M37.6 55.3c1.1 1.6 2.15 2.8 2.15 4.2a2.15 2.15 0 0 1-4.3 0c0-1.4 1.05-2.6 2.15-4.2z" fill="#fff"/></svg>
<div class="t ttl" style="left:45.5px;top:54px;translate:0 0.75px">Crude Oil Brent Cash<i class="d"></i>5<i class="d"></i>BlackBull Markets</div>
<div class="lbl" style="left:230.7px;top:54px;width:12px;height:10.4px;background:#ececee;border-radius:5.2px 0 0 5.2px"></div>
<div class="lbl" style="left:242.7px;top:54px;width:12px;height:10.4px;background:#fbd8e2;border-radius:0 5.2px 5.2px 0"></div>
<div class="lbl" style="left:234.4px;top:58.4px;width:5.3px;height:1.6px;background:#8c8e94;border-radius:0.7px"></div>
<svg width="780" height="470" viewBox="0 0 780 470"><path d="M246.1 58.3q1.1-.8 2.2 0t2.2 0M246.1 60.5q1.1-.8 2.2 0t2.2 0" stroke="#e0245e" stroke-width="0.85" fill="none"/></svg>
<div class="t gv" style="left:258.7px;top:55px;translate:0 0.9px">65.655</div>
<div class="t gv" style="left:285.6px;top:55px;translate:0 0.9px">−0.100</div>
<div class="t gv" style="left:311px;top:56px;translate:0 0.0px;font-size:7.05px">(−0.15%)</div>
<div class="lbl" style="left:31.9px;top:68.3px;width:35.8px;height:20.3px;border:1.3px solid #fbaab1;border-radius:3.4px;background:#fff"></div>
<div class="lbl" style="left:91.4px;top:68.3px;width:36.5px;height:20.3px;border:1.3px solid #90acff;border-radius:3.4px;background:#fff"></div>
<div class="t bs" style="left:32px;width:35.6px;top:71px;translate:0 0.2px;color:#f23645;font-weight:bold;font-size:7.4px">61.875</div>
<div class="t bs" style="left:32px;width:35.6px;top:79px;translate:0 0.9px;color:#f23645;font-size:6.5px;transform:scaleX(0.9) rotate(0.03deg)">SELL</div>
<div class="t bs" style="left:91.5px;width:36.3px;top:71px;translate:0 0.2px;color:#2962ff;font-weight:bold;font-size:7.4px">62.125</div>
<div class="t bs" style="left:91.5px;width:36.3px;top:79px;translate:0 0.9px;color:#2962ff;font-size:6.5px;transform:scaleX(0.9) rotate(0.03deg)">BUY</div>
<div class="t" style="left:72px;top:76px;translate:0 0.5px;font-size:5.9px;color:#191b21;-webkit-text-stroke:0.15px #191b21">0.250</div>
<div class="t" style="left:32.8px;top:94px;translate:0 0.4px;font-size:7.15px;color:#1e2026;-webkit-text-stroke:0.12px #1e2026">EMA <span style="color:#5f626c;-webkit-text-stroke:0.1px #5f626c">9 close</span></div>
<svg width="780" height="470" viewBox="0 0 780 470"><circle cx="81.8" cy="98.2" r="5.1" fill="#ece6fc"/><path d="M79 97.4a2.9 2.9 0 0 1 5.2-1.1M84.6 99a2.9 2.9 0 0 1-5.2 1.1" stroke="#6d40f7" stroke-width="1.3" fill="none"/><path d="M85.1 94.7v2.3h-2.3zM78.5 101.7v-2.3h2.3z" fill="#6d40f7"/></svg>
<div class="t" style="left:91.7px;top:94px;translate:0 0.85px;font-size:7.5px;color:#f7a032">65.795</div>
<div class="lbl" style="left:31.8px;top:107.2px;width:16.8px;height:11.8px;border:1px solid #ecedf0;border-radius:2px;background:#fff"></div>
<svg width="780" height="470" viewBox="0 0 780 470"><path d="M37.6 113.9l2.5-2.1 2.5 2.1" stroke="#1e222d" stroke-width="1.1" fill="none" stroke-linecap="round" stroke-linejoin="round"/></svg>
<svg width="780" height="470" viewBox="0 0 780 470"><path d="M34.5 374h7.3v8.4h-4.1v-5.1h-3.2z" fill="#141518"/><circle cx="43.7" cy="375.3" r="1.35" fill="#141518"/><path d="M46.3 374h5l-3.3 8.4h-4.9z" fill="#141518"/></svg>
<div class="t" style="left:56.2px;top:372px;translate:0 0.1px;font-size:12px;font-weight:bold;color:#141518">TradingView</div>
<div class="t bt" style="left:35.5px;top:414px;translate:0 0.15px">1D</div>
<div class="t bt" style="left:52.1px;top:414px;translate:0 0.15px">5D</div>
<div class="t bt" style="left:68.5px;top:414px;translate:0 0.15px">1M</div>
<div class="t bt" style="left:85.5px;top:414px;translate:0 0.15px">3M</div>
<div class="t bt" style="left:103.0px;top:414px;translate:0 0.15px">6M</div>
<div class="t bt" style="left:119.7px;top:414px;translate:0 0.15px">YTD</div>
<div class="t bt" style="left:141.2px;top:414px;translate:0 0.15px">1Y</div>
<div class="t bt" style="left:158.3px;top:414px;translate:0 0.15px;letter-spacing:0.45px">All</div>
<div class="lbl" style="left:173.2px;top:412px;width:1px;height:12.6px;background:#e3e4e8"></div>
<svg width="780" height="470" viewBox="0 0 780 470"><path d="M183.5 413.4h8a1.2 1.2 0 0 1 1.2 1.2v6.7a1.2 1.2 0 0 1-1.2 1.2h-4.2M182.3 416.4v-1.8a1.2 1.2 0 0 1 1.2-1.2M182.3 416.4h10.4M185.5 412.3v1.9M189.4 412.3v1.9M181.3 420.6h4.3M184.1 419l1.7 1.6-1.7 1.6" stroke="#2a2e39" stroke-width="0.8" fill="none"/></svg>
<div class="t bt" style="left:695.3px;top:414px;translate:0 0.25px;font-size:8.45px;transform:scaleX(0.94) rotate(0.03deg)">21:00:12 UTC</div>
<svg width="780" height="470" viewBox="0 0 780 470"><path d="M732.6 395.7h4.2l2.15 3.7-2.15 3.7h-4.2l-2.15-3.7z" stroke="#33363f" stroke-width="0.75" fill="none" stroke-linejoin="round"/><circle cx="734.7" cy="399.4" r="1.45" stroke="#33363f" stroke-width="0.75" fill="none"/></svg>
</div>
</body></html>
